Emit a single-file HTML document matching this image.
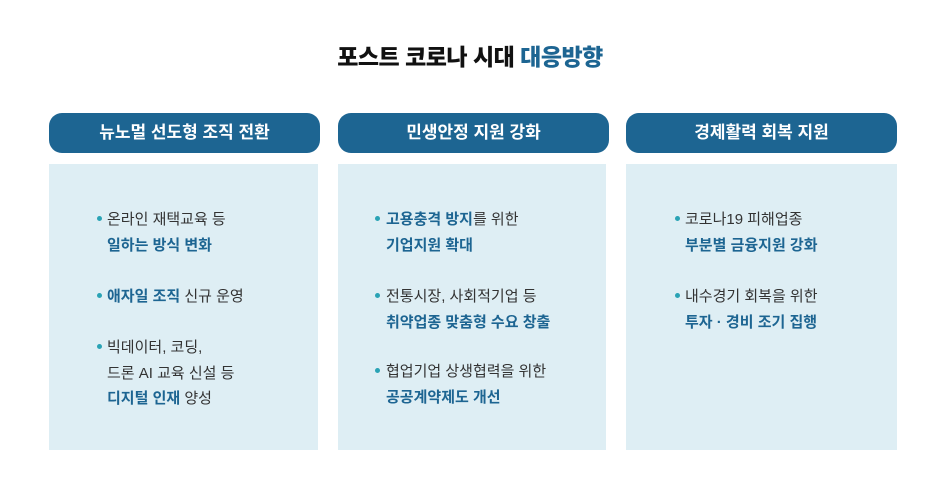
<!DOCTYPE html>
<html><head><meta charset="utf-8"><style>
body{margin:0;width:940px;height:500px;background:#fff;font-family:"Liberation Sans","Noto Sans CJK KR",sans-serif;position:relative;overflow:hidden}
.t{position:absolute;top:38px;left:0;width:940px;text-align:center;font-size:23px;font-weight:900;color:#111;letter-spacing:-0.5px}
.t span{color:#1d6592}
.h{position:absolute;top:113px;height:40px;background:#1d6592;border-radius:13px;color:#fff;font-size:17px;font-weight:700;text-align:center;line-height:40px}
.b{position:absolute;top:164px;height:286px;background:#deeef4}
.l{position:absolute;font-size:15px;color:#333;white-space:nowrap;line-height:25.5px}
.l b{color:#1d6592}
.d{position:absolute;width:5px;height:5px;border-radius:50%;background:#2aa3b5}
</style></head><body>
<div class="t">포스트 코로나 시대 <span>대응방향</span></div>
<div class="h" style="left:49px;width:271px">뉴노멀 선도형 조직 전환</div>
<div class="h" style="left:338px;width:271px">민생안정 지원 강화</div>
<div class="h" style="left:626px;width:271px">경제활력 회복 지원</div>
<div class="b" style="left:49px;width:269px"></div>
<div class="b" style="left:338px;width:268px"></div>
<div class="b" style="left:626px;width:271px"></div>

<div class="d" style="left:97px;top:216px"></div>
<div class="l" style="left:107px;top:207px">온라인 재택교육 등<br><b>일하는 방식 변화</b></div>
<div class="d" style="left:97px;top:293px"></div>
<div class="l" style="left:107px;top:284px"><b>애자일 조직</b> 신규 운영</div>
<div class="d" style="left:97px;top:344px"></div>
<div class="l" style="left:107px;top:335px">빅데이터, 코딩,<br>드론 AI 교육 신설 등<br><b>디지털 인재</b> 양성</div>

<div class="d" style="left:375px;top:216px"></div>
<div class="l" style="left:386px;top:207px"><b>고용충격 방지</b>를 위한<br><b>기업지원 확대</b></div>
<div class="d" style="left:375px;top:293px"></div>
<div class="l" style="left:386px;top:284px">전통시장, 사회적기업 등<br><b>취약업종 맞춤형 수요 창출</b></div>
<div class="d" style="left:375px;top:368px"></div>
<div class="l" style="left:386px;top:359px">협업기업 상생협력을 위한<br><b>공공계약제도 개선</b></div>

<div class="d" style="left:675px;top:216px"></div>
<div class="l" style="left:685px;top:207px">코로나19 피해업종<br><b>부분별 금융지원 강화</b></div>
<div class="d" style="left:675px;top:293px"></div>
<div class="l" style="left:685px;top:284px">내수경기 회복을 위한<br><b>투자 · 경비 조기 집행</b></div>
</body></html>
